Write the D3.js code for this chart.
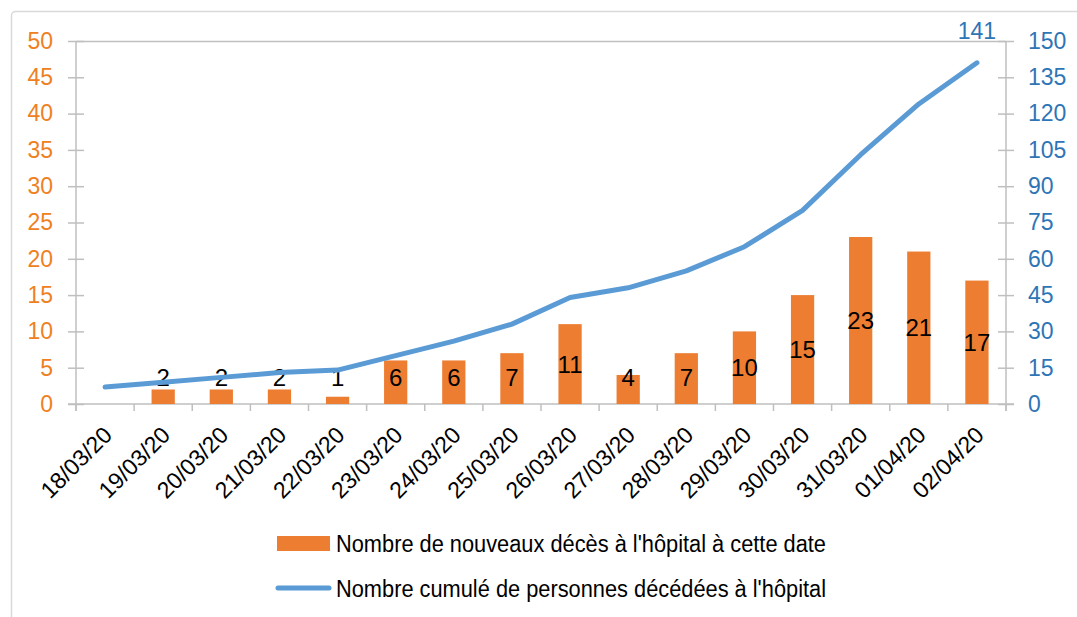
<!DOCTYPE html>
<html>
<head>
<meta charset="utf-8">
<script src="https://cdn.jsdelivr.net/npm/d3@7"></script>
<style>
  body { margin: 0; background: #fff; }
  text { font-family: "Liberation Sans", Arial, sans-serif; }
</style>
</head>
<body>
<div id="chart"></div>
<script>
const dates = ['18/03/20','19/03/20','20/03/20','21/03/20','22/03/20','23/03/20','24/03/20','25/03/20',
  '26/03/20','27/03/20','28/03/20','29/03/20','30/03/20','31/03/20','01/04/20','02/04/20']
const nouveaux = [0, 2, 2, 2, 1, 6, 6, 7, 11, 4, 7, 10, 15, 23, 21, 17]
const cumules = [7, 9, 11, 13, 14, 20, 26, 33, 44, 48, 55, 65, 80, 103, 124, 141]
const leftTicks = [0, 5, 10, 15, 20, 25, 30, 35, 40, 45, 50]
const rightTicks = [0, 15, 30, 45, 60, 75, 90, 105, 120, 135, 150]
const legendLabels = ["Nombre de nouveaux décès à l'hôpital à cette date",
  "Nombre cumulé de personnes décédées à l'hôpital"]

const width = 1077
const height = 617
const margin = {top: 41, right: 71, bottom: 213, left: 76}
const orange = '#ED7D31'
const blue = '#5B9BD5'
const axisGray = '#bfbfbf'

const svg = d3.select('#chart').append('svg')
  .attr('width', width)
  .attr('height', height)

// outer frame
svg.append('rect')
  .attr('x', 11.5).attr('y', 11.5)
  .attr('width', 1100).attr('height', 700)
  .attr('rx', 4)
  .attr('fill', 'none')
  .attr('stroke', '#d9d9d9')
  .attr('stroke-width', 1.5)

const x0 = margin.left, x1 = width - margin.right
const yBase = height - margin.bottom

const xScale = d3.scaleBand()
  .domain(dates)
  .range([x0, x1])
  .paddingInner(0.6)
  .paddingOuter(0.3)

const band = (x1 - x0) / dates.length

const yLeft = d3.scaleLinear().domain([0, 50]).range([yBase, margin.top])
const yRight = d3.scaleLinear().domain([0, 150]).range([yBase, margin.top])

// top border line of plot area
svg.append('line')
  .attr('x1', x0).attr('x2', x1)
  .attr('y1', margin.top + 0.5).attr('y2', margin.top + 0.5)
  .attr('stroke', axisGray).attr('stroke-width', 1.5)

// left axis
const leftAxis = svg.append('g')
  .attr('transform', `translate(${x0},0)`)
  .call(d3.axisLeft(yLeft).tickValues(leftTicks).tickSize(8).tickPadding(15))
leftAxis.select('.domain').remove()
leftAxis.append('line')
  .attr('y1', margin.top).attr('y2', yBase + 7)
  .attr('stroke', axisGray).attr('stroke-width', 1.5)
leftAxis.selectAll('.tick line')
  .attr('x2', 8).attr('x1', -8)
  .attr('stroke', axisGray).attr('stroke-width', 1.5)
leftAxis.selectAll('.tick text')
  .attr('fill', '#EF8022')
  .attr('font-size', 23)

// right axis
const rightAxis = svg.append('g')
  .attr('transform', `translate(${x1},0)`)
  .call(d3.axisRight(yRight).tickValues(rightTicks).tickSize(8).tickPadding(14))
rightAxis.select('.domain').remove()
rightAxis.append('line')
  .attr('y1', margin.top).attr('y2', yBase + 7)
  .attr('stroke', axisGray).attr('stroke-width', 1.5)
rightAxis.selectAll('.tick line')
  .attr('x1', -8).attr('x2', 8)
  .attr('stroke', axisGray).attr('stroke-width', 1.5)
rightAxis.selectAll('.tick text')
  .attr('fill', '#2E75B6')
  .attr('font-size', 23)

// x axis
svg.append('line')
  .attr('x1', x0 - 8).attr('x2', x1 + 8)
  .attr('y1', yBase).attr('y2', yBase)
  .attr('stroke', axisGray).attr('stroke-width', 1.5)

svg.append('g')
  .selectAll('line')
  .data(d3.range(dates.length + 1))
  .join('line')
  .attr('x1', i => x0 + i * band).attr('x2', i => x0 + i * band)
  .attr('y1', yBase).attr('y2', yBase + 7)
  .attr('stroke', axisGray).attr('stroke-width', 1.5)

svg.append('g')
  .selectAll('text')
  .data(dates)
  .join('text')
  .attr('transform', d => `translate(${xScale(d) + xScale.bandwidth() / 2 - 3},${yBase + 21}) rotate(-45)`)
  .attr('text-anchor', 'end')
  .attr('dy', '0.7em')
  .attr('font-size', 23)
  .attr('fill', '#000')
  .text(d => d)

// bars
svg.append('g')
  .selectAll('rect')
  .data(nouveaux.map((v, i) => ({ d: dates[i], v })).filter(o => o.v > 0))
  .join('rect')
  .attr('x', o => xScale(o.d))
  .attr('y', o => yLeft(o.v))
  .attr('width', xScale.bandwidth())
  .attr('height', o => yLeft(0) - yLeft(o.v))
  .attr('fill', orange)

// bar labels
svg.append('g')
  .selectAll('text')
  .data(nouveaux.map((v, i) => ({ d: dates[i], v })).filter(o => o.v > 0))
  .join('text')
  .attr('x', o => xScale(o.d) + xScale.bandwidth() / 2)
  .attr('y', o => Math.min(yLeft(o.v / 2), yBase - 27))
  .attr('dy', '0.36em')
  .attr('text-anchor', 'middle')
  .attr('font-size', 24)
  .attr('fill', '#000')
  .text(o => o.v)

// cumulative line
const line = d3.line()
  .x((v, i) => xScale(dates[i]) + xScale.bandwidth() / 2)
  .y(v => yRight(v))

svg.append('path')
  .attr('d', line(cumules))
  .attr('fill', 'none')
  .attr('stroke', blue)
  .attr('stroke-width', 5)
  .attr('stroke-linejoin', 'round')
  .attr('stroke-linecap', 'round')

const last = cumules.length - 1
svg.append('text')
  .attr('x', xScale(dates[last]) + xScale.bandwidth() / 2)
  .attr('y', yRight(cumules[last]) - 23.5)
  .attr('text-anchor', 'middle')
  .attr('font-size', 23)
  .attr('fill', '#2E75B6')
  .text(cumules[last])

// legend
const legend = svg.append('g')
legend.append('rect')
  .attr('x', 277).attr('y', 536)
  .attr('width', 53).attr('height', 15)
  .attr('fill', orange)
legend.append('line')
  .attr('x1', 278).attr('x2', 329)
  .attr('y1', 588).attr('y2', 588)
  .attr('stroke', blue).attr('stroke-width', 5)
  .attr('stroke-linecap', 'round')
legend.selectAll('text')
  .data(legendLabels)
  .join('text')
  .attr('x', 336)
  .attr('y', (d, i) => 552 + i * 45)
  .attr('font-size', 23)
  .attr('textLength', 490)
  .attr('lengthAdjust', 'spacingAndGlyphs')
  .attr('fill', '#000')
  .text(d => d)
</script>
</body>
</html>
